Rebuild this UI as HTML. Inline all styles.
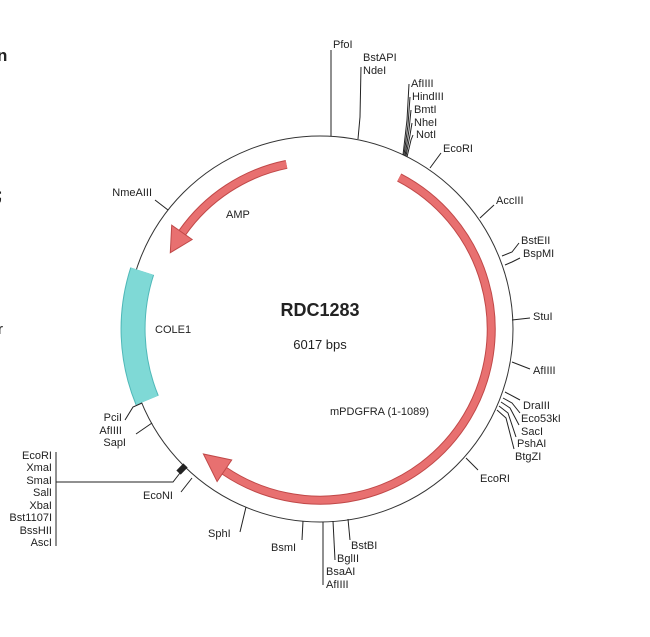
<!DOCTYPE html>
<html><head><meta charset="utf-8"><style>
html,body{margin:0;padding:0;background:#fff;}
svg{display:block;font-family:"Liberation Sans",sans-serif;}
text{font-size:11px;fill:#222;}
</style></head><body>
<svg width="650" height="637" viewBox="0 0 650 637" xmlns="http://www.w3.org/2000/svg">
<rect width="650" height="637" fill="#fff"/>
<text x="-3" y="61" style="font-size:17px;font-weight:bold">n</text>
<text x="-3" y="200" style="font-size:17px;font-weight:bold">;</text>
<text x="-2" y="334" style="font-size:15px">r</text>

<circle cx="320" cy="329" r="193" fill="none" stroke="#333" stroke-width="1"/>

<!-- cyan COLE1 -->
<path d="M142.2,271.2 A187,187 0 0 0 147.2,400.3" fill="none" stroke="#4fb8b8" stroke-width="25"/>
<path d="M142.2,271.2 A187,187 0 0 0 147.2,400.3" fill="none" stroke="#7fd9d6" stroke-width="23"/>

<!-- mPDGFRA arc -->
<path d="M399.2,177.5 A171,171 0 1 1 224.4,470.8" fill="none" stroke="#c04848" stroke-width="9"/>
<path d="M399.2,177.5 A171,171 0 1 1 224.4,470.8" fill="none" stroke="#e87070" stroke-width="7"/>
<polygon points="231.7,460 217.1,481.5 203.4,454" fill="#e87070" stroke="#c04848" stroke-width="1"/>

<!-- AMP arc -->
<path d="M286.5,164.4 A168,168 0 0 0 182.4,232.6" fill="none" stroke="#c04848" stroke-width="9"/>
<path d="M286.5,164.4 A168,168 0 0 0 182.4,232.6" fill="none" stroke="#e87070" stroke-width="7"/>
<polygon points="192.2,239.5 171.7,225.2 170.3,252.7" fill="#e87070" stroke="#c04848" stroke-width="1"/>

<!-- marker -->
<rect x="177" y="466" width="10" height="6" fill="#222" transform="rotate(-46 182 469)"/>

<g stroke="#222" stroke-width="1" fill="none">
<line x1="331" y1="136" x2="331" y2="50"/>
<polyline points="358,139 360,117 361,67"/>
<polyline points="403,155 407,120 409,84"/>
<polyline points="404,155 408,125 410,97"/>
<polyline points="405,156 409,130 411,110"/>
<polyline points="406,156 410,135 412,123"/>
<polyline points="407,157 411,140 413,135"/>
<line x1="430" y1="168" x2="441" y2="153"/>
<line x1="480" y1="218" x2="494" y2="205"/>
<polyline points="502,256 512,252 519,243"/>
<polyline points="505,265 512,262 520,258"/>
<line x1="512" y1="320" x2="530" y2="318"/>
<line x1="512" y1="362" x2="530" y2="369"/>
<polyline points="505,392 520,400"/>
<polyline points="503,398 512,403 520,413"/>
<polyline points="501,402 510,408 519,425"/>
<polyline points="499,406 508,413 516,437"/>
<polyline points="497,410 506,418 514,449"/>
<line x1="466" y1="458" x2="478" y2="470"/>
<line x1="348" y1="519" x2="350" y2="540"/>
<line x1="333" y1="521" x2="335" y2="560"/>
<line x1="323" y1="522" x2="323" y2="585"/>
<line x1="303" y1="521" x2="302" y2="540"/>
<line x1="246" y1="507" x2="240" y2="532"/>
<line x1="192" y1="478" x2="181" y2="492"/>
<polyline points="180,473 173,482 56,482"/>
<line x1="56" y1="452" x2="56" y2="546"/>
<polyline points="142,403 133,407 125,420"/>
<line x1="152" y1="423" x2="136" y2="434"/>
<line x1="155" y1="200" x2="168" y2="210"/>
</g>

<text x="333" y="48">PfoI</text>
<text x="363" y="61">BstAPI</text>
<text x="363" y="74">NdeI</text>
<text x="411" y="87">AfIIII</text>
<text x="412" y="100">HindIII</text>
<text x="414" y="113">BmtI</text>
<text x="414" y="126">NheI</text>
<text x="416" y="138">NotI</text>
<text x="443" y="152">EcoRI</text>
<text x="496" y="204">AccIII</text>
<text x="521" y="244">BstEII</text>
<text x="523" y="257">BspMI</text>
<text x="533" y="320">StuI</text>
<text x="533" y="374">AfIIII</text>
<text x="523" y="409">DraIII</text>
<text x="521" y="422">Eco53kI</text>
<text x="521" y="435">SacI</text>
<text x="517" y="447">PshAI</text>
<text x="515" y="460">BtgZI</text>
<text x="480" y="482">EcoRI</text>
<text x="351" y="549">BstBI</text>
<text x="337" y="562">BglII</text>
<text x="326" y="575">BsaAI</text>
<text x="326" y="588">AfIIII</text>
<text x="271" y="551">BsmI</text>
<text x="208" y="537">SphI</text>
<text x="143" y="499">EcoNI</text>
<text x="152" y="196" text-anchor="end">NmeAIII</text>
<text x="122" y="421" text-anchor="end">PciI</text>
<text x="122" y="434" text-anchor="end">AfIIII</text>
<text x="126" y="446" text-anchor="end">SapI</text>
<g text-anchor="end">
<text x="52" y="459">EcoRI</text>
<text x="52" y="471">XmaI</text>
<text x="52" y="484">SmaI</text>
<text x="52" y="496">SalI</text>
<text x="52" y="509">XbaI</text>
<text x="52" y="521">Bst1107I</text>
<text x="52" y="534">BssHII</text>
<text x="52" y="546">AscI</text>
</g>

<text x="226" y="218">AMP</text>
<text x="155" y="333">COLE1</text>
<text x="330" y="415">mPDGFRA (1-1089)</text>
<text x="320" y="316" text-anchor="middle" style="font-size:18px;font-weight:bold">RDC1283</text>
<text x="320" y="349" text-anchor="middle" style="font-size:13px">6017 bps</text>
</svg>
</body></html>
